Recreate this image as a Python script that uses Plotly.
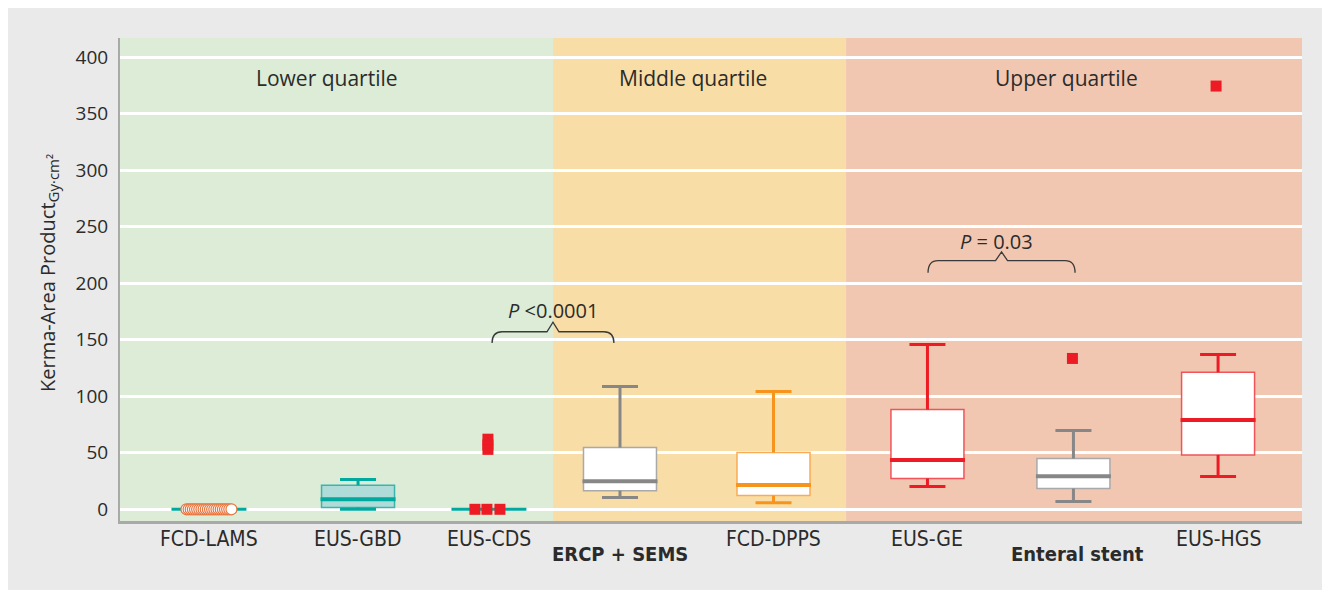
import plotly.graph_objects as go

# ---------------- data ----------------
groups = ["FCD-LAMS", "EUS-GBD", "EUS-CDS", "ERCP + SEMS", "FCD-DPPS",
          "EUS-GE", "Enteral stent", "EUS-HGS"]
lower = [0, 0, 0, 10.4, 5.9, 20.1, 6.8, 28.9]
q1 = [0, 1.5, 0, 16.5, 12.1, 27.2, 18.3, 48.1]
median = [0, 8.8, 0, 24.8, 21.5, 43.6, 29.2, 79.0]
q3 = [0, 21.2, 0, 54.6, 50.2, 88.2, 44.9, 121.2]
upper = [0, 26.3, 0, 108.6, 104.2, 145.7, 69.6, 136.9]

lams_points = [0, 0, 0, 0, 0, 0, 0, 0, 0, 0, 0,
               0, 0, 0, 0, 0, 0, 0, 0, 0, 0, 0]
cds_outliers = [0, 0, 0, 53, 57, 62]
enteral_outliers = [133.4]
hgs_outliers = [374.3]

bold_groups = ["ERCP + SEMS", "Enteral stent"]
region_labels = ["Lower quartile", "Middle quartile", "Upper quartile"]
p_labels = ["<i>P</i> <0.0001", "<i>P</i> = 0.03"]
y_ticks = [0, 50, 100, 150, 200, 250, 300, 350, 400]

# ---------------- layout constants ----------------
W, H = 1330, 590
ML, MR, MT, MB = 112, 36, 30, 77
PW, PH = W - ML - MR, H - MT - MB
X_RANGE = [0, 8]
Y_RANGE = [-10.35, 416.8]
UNIT = PW / (X_RANGE[1] - X_RANGE[0])  # px per x unit

positions = [0.602, 1.611, 2.497, 3.384, 4.423, 5.465, 6.453, 7.432]
region_edges = [0, 2.931, 4.914, 8]
region_colors = ["#dcecd6", "#f8dea6", "#f2c7b1"]
region_label_x = [1.401, 3.878, 6.403]

BOX_W = 73 / UNIT
CAP_HALF = 18 / UNIT

TEAL, TEAL_FILL, TEAL_EDGE = "#00a99d", "#afdcd8", "#3bb5ab"
GRAY, GRAY_EDGE = "#878787", "#a9a9a9"
ORANGE, ORANGE_EDGE = "#f7941d", "#f9ac55"
RED, RED_EDGE = "#ed1c24", "#f0545a"
LAMS_COLOR = "#e8733b"

line_colors = [TEAL, TEAL, TEAL, GRAY, ORANGE, RED, GRAY, RED]
edge_colors = [TEAL_EDGE, TEAL_EDGE, TEAL_EDGE, GRAY_EDGE, ORANGE_EDGE, RED_EDGE, GRAY_EDGE, RED_EDGE]
fill_colors = ["white", TEAL_FILL, "white", "white", "white", "white", "white", "white"]

FONT = "Open Sans, Liberation Sans, sans-serif"
NARROW = "Liberation Sans Narrow, DejaVu Sans Condensed, Roboto Condensed, Open Sans, sans-serif"
TXT = "#2b2b2b"

fig = go.Figure()

# boxes (outline + fill)
for i, g in enumerate(groups):
    fig.add_trace(go.Box(
        x=[positions[i]], q1=[q1[i]], median=[median[i]], q3=[q3[i]],
        lowerfence=[lower[i]], upperfence=[upper[i]],
        width=BOX_W, whiskerwidth=0.001, boxpoints=False,
        fillcolor=fill_colors[i], line=dict(color=edge_colors[i], width=1.5),
        name=g, showlegend=False, hoverinfo="skip"))

# whiskers + caps (thick)
for i, g in enumerate(groups):
    if upper[i] == lower[i]:
        continue
    c = positions[i]
    xs = [c - CAP_HALF, c + CAP_HALF, None, c, c, None, c, c, None, c - CAP_HALF, c + CAP_HALF]
    ys = [upper[i], upper[i], None, upper[i], q3[i], None, q1[i], lower[i], None, lower[i], lower[i]]
    fig.add_trace(go.Scatter(x=xs, y=ys, mode="lines", line=dict(color=line_colors[i], width=3),
                             showlegend=False, hoverinfo="skip"))

# medians
for i, g in enumerate(groups):
    c = positions[i]
    half = BOX_W / 2 + 1 / UNIT
    wdt = 3 if upper[i] == lower[i] else 4
    fig.add_trace(go.Scatter(x=[c - half, c + half], y=[median[i], median[i]], mode="lines",
                             line=dict(color=line_colors[i], width=wdt),
                             showlegend=False, hoverinfo="skip"))

# FCD-LAMS points (all at zero, spread horizontally)
n = len(lams_points)
spread = 45 / UNIT
lams_x = [positions[0] - spread / 2 + spread * k / (n - 1) for k in range(n)]
fig.add_trace(go.Scatter(x=lams_x, y=lams_points, mode="markers",
                         marker=dict(symbol="circle", size=11, color="white",
                                     line=dict(color=LAMS_COLOR, width=1.2)),
                         showlegend=False, hoverinfo="skip"))

# outliers
cds_offsets = [-14 / UNIT, -2 / UNIT, 11 / UNIT, -1 / UNIT, -1 / UNIT, -1 / UNIT]
out_x = [positions[2] + o for o in cds_offsets] + [positions[6] - 1 / UNIT] * len(enteral_outliers) \
    + [positions[7] - 2 / UNIT] * len(hgs_outliers)
out_y = cds_outliers + enteral_outliers + hgs_outliers
fig.add_trace(go.Scatter(x=out_x, y=out_y, mode="markers",
                         marker=dict(symbol="square", size=11, color=RED, line=dict(width=0)),
                         showlegend=False, hoverinfo="skip"))

# ---------------- shapes ----------------
shapes = []


def px_to_paper_x(px):
    return (px - ML) / PW


def px_to_paper_y(py):
    return (H - MB - py) / PH


for k in range(3):
    shapes.append(dict(type="rect", xref="x", yref="paper", x0=region_edges[k], x1=region_edges[k + 1],
                       y0=0, y1=1, fillcolor=region_colors[k], line=dict(width=0), layer="below"))


def brace(x0, x1, y_end, y_body, y_cusp):
    r = 10 / UNIT
    xm = (x0 + x1) / 2
    c = 6 / UNIT
    return (f"M {x0},{y_end} Q {x0},{y_body} {x0 + r},{y_body} L {xm - c},{y_body} "
            f"L {xm},{y_cusp} L {xm + c},{y_body} L {x1 - r},{y_body} Q {x1},{y_body} {x1},{y_end}")


brace_specs = [(2.518, 3.343, 147.0, 157.0, 165.5), (5.469, 6.464, 209.2, 219.9, 227.6)]
for b in brace_specs:
    shapes.append(dict(type="path", xref="x", yref="y", path=brace(*b),
                       line=dict(color="#3a3a3a", width=1.3), layer="above"))

# ---------------- annotations ----------------
ann = []
for k, t in enumerate(region_labels):
    ann.append(dict(x=region_label_x[k], y=381.4, xref="x", yref="y", text=t, showarrow=False,
                    font=dict(family=FONT, size=21, color=TXT), xanchor="center", yanchor="middle"))
p_pos = [(2.931, 176.0), (5.93, 237.0)]
for k, t in enumerate(p_labels):
    ann.append(dict(x=p_pos[k][0], y=p_pos[k][1], xref="x", yref="y", text=t, showarrow=False,
                    font=dict(family=FONT, size=20, color=TXT), xanchor="center", yanchor="middle"))
for i, g in enumerate(groups):
    bold = g in bold_groups
    ann.append(dict(x=positions[i] + (4 / UNIT if g == "Enteral stent" else 0), xref="x", yref="paper",
                    y=px_to_paper_y(546 if bold else 531),
                    text=f"<b>{g}</b>" if bold else g, showarrow=False,
                    font=dict(family=NARROW, size=20 if bold else 21, color=TXT),
                    xanchor="center", yanchor="middle"))
ann.append(dict(x=px_to_paper_x(40), y=px_to_paper_y(265), xref="paper", yref="paper",
                text="Kerma-Area Product<sub><span style='font-size:15px'>Gy·cm²</span></sub>",
                textangle=-90, showarrow=False,
                font=dict(family=FONT, size=20, color=TXT), xanchor="center", yanchor="middle"))

fig.update_layout(
    width=W, height=H,
    margin=dict(l=ML, r=MR, t=MT, b=MB, pad=0),
    paper_bgcolor="#e9eae9", plot_bgcolor="rgba(0,0,0,0)",
    shapes=shapes, annotations=ann, showlegend=False,
    xaxis=dict(range=X_RANGE, showgrid=False, zeroline=False, showticklabels=False, ticks="",
               showline=True, linecolor="#a9a9a9", linewidth=2.5, fixedrange=True),
    yaxis=dict(range=Y_RANGE, tickvals=y_ticks, showgrid=True, gridcolor="white", gridwidth=2.5,
               zeroline=False, ticks="", ticklabelstandoff=6,
               tickfont=dict(family=FONT, size=19, color=TXT),
               showline=True, linecolor="#a9a9a9", linewidth=2, fixedrange=True),
)

fig.write_html("out.html")
